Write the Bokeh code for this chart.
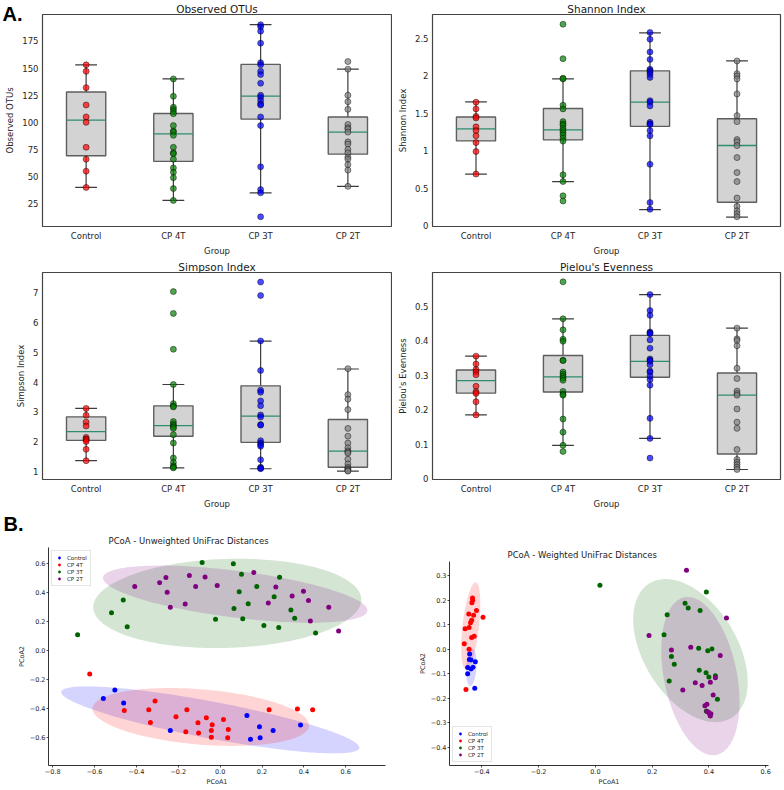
import numpy as np
from bokeh.plotting import figure
from bokeh.layouts import column, row
from bokeh.models import (Range1d, FactorRange, FixedTicker, Title, ColumnDataSource,
                          CustomJSTickFormatter)
from bokeh.transform import dodge
from bokeh.embed import file_html
from bokeh.resources import INLINE

# ---------------- data ----------------
groups = ["Control", "CP 4T", "CP 3T", "CP 2T"]
box_point_colors = ["red", "green", "blue", "gray"]
pcoa_colors = ["blue", "red", "darkgreen", "purple"]

# Observed OTUs
otu_control = [153, 147, 132, 116, 105, 100, 77, 66, 55, 40]
otu_cp4t = [140, 124, 114, 112, 110, 108, 97, 92, 91, 88, 77, 72, 71, 66, 58, 54, 49, 39, 28]
otu_cp3t = [190, 188, 184, 173, 155, 153, 147, 144, 136, 125, 123, 120, 117, 116, 105, 97, 59, 38, 35, 13]
otu_cp2t = [156, 149, 125, 119, 112, 98, 95, 94, 91, 82, 80, 75, 72, 68, 66, 61, 56, 41]
otu_q1 = [69.2, 64.0, 103.0, 70.7]
otu_med = [102.1, 89.3, 124.1, 90.9]
otu_q3 = [128.0, 108.2, 153.4, 104.9]
otu_lo = [40, 28, 35, 41]
otu_hi = [153, 140, 190, 149]
otu_ticks = [25, 50, 75, 100, 125, 150, 175]

# Shannon
sh_control = [1.65, 1.56, 1.46, 1.44, 1.32, 1.27, 1.20, 1.11, 0.99, 0.69]
sh_cp4t = [2.69, 2.23, 1.97, 1.96, 1.61, 1.56, 1.39, 1.36, 1.34, 1.30, 1.27, 1.24, 1.21, 1.17, 1.13, 0.68, 0.59, 0.40, 0.33]
sh_cp3t = [2.58, 2.49, 2.32, 2.22, 2.09, 2.07, 2.05, 2.02, 1.98, 1.67, 1.65, 1.60, 1.38, 1.36, 1.35, 1.27, 1.20, 0.82, 0.31, 0.22]
sh_cp2t = [2.20, 2.03, 2.00, 1.96, 1.76, 1.47, 1.39, 1.15, 1.12, 1.07, 0.91, 0.71, 0.59, 0.37, 0.26, 0.20, 0.16, 0.12]
sh_q1 = [1.133, 1.146, 1.327, 0.313]
sh_med = [1.292, 1.279, 1.649, 1.071]
sh_q3 = [1.451, 1.565, 2.068, 1.429]
sh_lo = [0.688, 0.59, 0.216, 0.115]
sh_hi = [1.653, 1.96, 2.575, 2.20]
sh_ticks = [0.0, 0.5, 1.0, 1.5, 2.0, 2.5]

# Simpson
si_control = [3.12, 2.89, 2.66, 2.53, 2.15, 2.10, 2.07, 2.01, 1.75, 1.37]
si_cp4t = [7.03, 6.30, 5.10, 3.92, 3.28, 3.20, 3.17, 2.68, 2.60, 2.55, 2.50, 2.45, 2.24, 1.96, 1.46, 1.31, 1.20, 1.15, 1.13]
si_cp3t = [7.35, 6.90, 5.38, 4.39, 3.73, 3.66, 3.37, 3.21, 2.90, 2.83, 2.58, 2.56, 2.04, 1.96, 1.90, 1.85, 1.40, 1.15, 1.12, 1.10]
si_cp2t = [4.45, 3.58, 3.43, 3.08, 2.45, 2.19, 1.96, 1.80, 1.70, 1.66, 1.62, 1.42, 1.26, 1.15, 1.10, 1.08, 1.04, 1.02]
si_q1 = [2.049, 2.189, 1.984, 1.151]
si_med = [2.341, 2.546, 2.859, 1.692]
si_q3 = [2.838, 3.205, 3.876, 2.751]
si_lo = [1.37, 1.13, 1.10, 1.02]
si_hi = [3.12, 3.92, 5.37, 4.44]
si_ticks = [1, 2, 3, 4, 5, 6, 7]

# Pielou
pe_control = [0.355, 0.332, 0.316, 0.309, 0.301, 0.268, 0.252, 0.247, 0.223, 0.185]
pe_cp4t = [0.570, 0.463, 0.431, 0.404, 0.398, 0.343, 0.342, 0.309, 0.303, 0.297, 0.291, 0.285, 0.253, 0.245, 0.242, 0.173, 0.135, 0.097, 0.079]
pe_cp3t = [0.533, 0.487, 0.473, 0.425, 0.422, 0.420, 0.402, 0.378, 0.347, 0.343, 0.340, 0.330, 0.312, 0.308, 0.297, 0.287, 0.271, 0.175, 0.117, 0.060]
pe_cp2t = [0.436, 0.405, 0.400, 0.385, 0.320, 0.290, 0.254, 0.247, 0.242, 0.202, 0.164, 0.146, 0.085, 0.056, 0.048, 0.041, 0.034, 0.027]
pe_q1 = [0.248, 0.251, 0.294, 0.072]
pe_med = [0.284, 0.295, 0.340, 0.242]
pe_q3 = [0.315, 0.357, 0.415, 0.306]
pe_lo = [0.185, 0.097, 0.117, 0.027]
pe_hi = [0.355, 0.463, 0.533, 0.436]
pe_ticks = [0.0, 0.1, 0.2, 0.3, 0.4, 0.5]

# PCoA - unweighted
uw_control_x = [-0.558, -0.503, -0.461, -0.238, 0.128, 0.188, 0.145, 0.191, 0.253, 0.384]
uw_control_y = [-0.329, -0.270, -0.360, -0.550, -0.446, -0.524, -0.610, -0.601, -0.550, -0.513]
uw_cp4t_x = [-0.623, -0.458, -0.311, -0.341, -0.333, -0.211, -0.159, -0.164, -0.106, -0.103,
             -0.066, -0.038, -0.042, -0.042, 0.016, 0.039, 0.036, 0.234, 0.369, 0.442]
uw_cp4t_y = [-0.161, -0.413, -0.347, -0.407, -0.495, -0.455, -0.407, -0.559, -0.497, -0.568,
             -0.462, -0.510, -0.550, -0.597, -0.475, -0.544, -0.601, -0.407, -0.402, -0.407]
uw_cp3t_x = [-0.681, -0.519, -0.463, -0.444, -0.086, 0.063, 0.102, 0.091, 0.175, 0.284,
             0.258, 0.134, 0.066, 0.108, -0.022, 0.209, 0.280, 0.338, 0.356, 0.456]
uw_cp3t_y = [0.110, 0.263, 0.351, 0.166, 0.610, 0.601, 0.528, 0.407, 0.444, 0.508,
             0.373, 0.325, 0.292, 0.221, 0.217, 0.175, 0.161, 0.281, 0.225, 0.122]
uw_cp2t_x = [-0.408, -0.289, -0.259, -0.253, -0.238, -0.167, -0.147, -0.117, -0.072, -0.014,
             0.161, 0.266, 0.230, 0.344, 0.398, 0.422, 0.431, 0.519, 0.566]
uw_cp2t_y = [0.444, 0.469, 0.506, 0.404, 0.301, 0.323, 0.519, 0.444, 0.510, 0.451,
             0.541, 0.440, 0.329, 0.378, 0.411, 0.347, 0.206, 0.301, 0.137]
# ellipses: centre x, centre y, semi-major, semi-minor, angle (deg)
uw_ell_cx = [-0.047, -0.092, 0.034, 0.072]
uw_ell_cy = [-0.477, -0.457, 0.327, 0.391]
uw_ell_a = [0.738, 0.521, 0.641, 0.642]
uw_ell_b = [0.125, 0.19, 0.307, 0.16]
uw_ell_ang = [-15.5, -7.3, 3.0, -10.7]
uw_xticks = [-0.8, -0.6, -0.4, -0.2, 0.0, 0.2, 0.4, 0.6]
uw_yticks = [-0.6, -0.4, -0.2, 0.0, 0.2, 0.4, 0.6]

# PCoA - weighted
w_control_x = [-0.443, -0.444, -0.438, -0.423, -0.450, -0.438, -0.431, -0.450, -0.425]
w_control_y = [-0.020, -0.042, -0.044, -0.051, -0.075, -0.081, -0.074, -0.100, -0.159]
w_cp4t_x = [-0.433, -0.432, -0.435, -0.419, -0.429, -0.446, -0.436, -0.440, -0.396, -0.445,
            -0.459, -0.427, -0.436, -0.462, -0.445, -0.456]
w_cp4t_y = [0.208, 0.199, 0.189, 0.157, 0.138, 0.143, 0.118, 0.108, 0.130, 0.088,
            0.083, 0.053, 0.047, 0.022, 0.000, -0.164]
w_cp3t_x = [0.016, 0.391, 0.316, 0.327, 0.369, 0.253, 0.242, 0.268, 0.278, 0.364,
            0.396, 0.411, 0.260, 0.366, 0.390, 0.400, 0.423, 0.430, 0.391]
w_cp3t_y = [0.260, 0.233, 0.187, 0.168, 0.157, 0.140, 0.059, -0.030, -0.062, 0.004,
            -0.007, 0.001, -0.130, -0.086, -0.096, -0.113, -0.108, -0.204, -0.252]
w_cp2t_x = [0.321, 0.462, 0.189, 0.268, 0.336, 0.440, 0.352, 0.376, 0.308, 0.405,
            0.423, 0.415, 0.386, 0.393, 0.399, 0.403, 0.393, 0.405, 0.407]
w_cp2t_y = [0.321, 0.127, 0.056, -0.003, 0.008, -0.026, -0.137, -0.148, -0.166, -0.135,
            -0.117, -0.187, -0.231, -0.224, -0.257, -0.265, -0.254, -0.272, -0.263]
w_ell_cx = [-0.437, -0.439, 0.335, 0.370]
w_ell_cy = [-0.074, 0.095, -0.006, -0.110]
w_ell_a = [0.076, 0.178, 0.311, 0.326]
w_ell_b = [0.018, 0.029, 0.17, 0.129]
w_ell_ang = [87.0, 84.4, -65.4, -80.6]
w_xticks = [-0.4, -0.2, 0.0, 0.2, 0.4, 0.6]
w_yticks = [-0.4, -0.3, -0.2, -0.1, 0.0, 0.1, 0.2, 0.3]

FONT = "DejaVu Sans"
TXT = "#262626"


def box_panel(title, ylabel, values, q1, med, q3, lo, hi, yr, yticks, width, height,
              mbl, mbr, mbt, mbb):
    p = figure(width=width, height=height, x_range=FactorRange(*groups), y_range=Range1d(*yr),
               output_backend="svg", toolbar_location=None,
               min_border_left=mbl, min_border_right=mbr, min_border_top=mbt,
               min_border_bottom=mbb)
    p.title.text = title
    p.title.align = "center"
    p.title.text_font = FONT
    p.title.text_font_size = "10.5px"
    p.title.text_font_style = "normal"
    p.title.text_color = "#1a1a1a"
    p.title.standoff = 0
    p.outline_line_color = "#444444"
    p.outline_line_width = 1.2
    p.xgrid.visible = False
    p.ygrid.visible = False
    for ax in (p.xaxis, p.yaxis):
        ax.axis_line_color = None
        ax.major_tick_line_color = None
        ax.minor_tick_line_color = None
        ax.major_tick_out = 0
        ax.major_tick_in = 0
        ax.major_label_text_font = FONT
        ax.major_label_text_font_size = "8.5px"
        ax.major_label_text_color = TXT
        ax.axis_label_text_font = FONT
        ax.axis_label_text_font_size = "8.5px"
        ax.axis_label_text_font_style = "normal"
        ax.axis_label_text_color = TXT
        ax.major_label_standoff = 4
        ax.axis_label_standoff = 4
    p.xaxis.axis_label_standoff = 2
    p.xaxis.axis_label = "Group"
    p.yaxis.axis_label = ylabel
    p.yaxis.ticker = FixedTicker(ticks=yticks)

    src = ColumnDataSource(dict(grp=groups, q1=q1, med=med, q3=q3, lo=lo, hi=hi))
    wl = dict(line_color="#3c3c3c", line_width=1.2)
    p.segment(x0="grp", y0="q3", x1="grp", y1="hi", source=src, **wl)
    p.segment(x0="grp", y0="q1", x1="grp", y1="lo", source=src, **wl)
    p.segment(x0=dodge("grp", -0.125, range=p.x_range), y0="hi",
              x1=dodge("grp", 0.125, range=p.x_range), y1="hi", source=src, **wl)
    p.segment(x0=dodge("grp", -0.125, range=p.x_range), y0="lo",
              x1=dodge("grp", 0.125, range=p.x_range), y1="lo", source=src, **wl)
    p.vbar(x="grp", width=0.45, bottom="q1", top="q3", source=src,
           fill_color="#d3d3d3", line_color="#5e5e5e", line_width=1.4)
    p.segment(x0=dodge("grp", -0.225, range=p.x_range), y0="med",
              x1=dodge("grp", 0.225, range=p.x_range), y1="med", source=src,
              line_color="#2f8c6e", line_width=1.3)
    for g, vals, c in zip(groups, values, box_point_colors):
        p.scatter(x=[g] * len(vals), y=vals, size=6, fill_color=c, fill_alpha=0.7,
                  line_color="black", line_alpha=0.55, line_width=0.8)
    return p


def ellipse_xy(cx, cy, a, b, ang):
    t = np.linspace(0, 2 * np.pi, 240)
    th = np.deg2rad(ang)
    x = cx + a * np.cos(t) * np.cos(th) - b * np.sin(t) * np.sin(th)
    y = cy + a * np.cos(t) * np.sin(th) + b * np.sin(t) * np.cos(th)
    return list(x), list(y)


def pcoa_panel(title, xs_list, ys_list, ell, xr, yr, xticks, yticks, width, height,
               mbl, mbr, mbt, legend_loc, title_offset):
    p = figure(width=width, height=height, x_range=Range1d(*xr), y_range=Range1d(*yr),
               output_backend="svg", toolbar_location=None, frame_align=False,
               min_border_left=mbl, min_border_right=mbr, min_border_top=mbt,
               min_border_bottom=21)
    p.title = None
    p.add_layout(Title(text=title, align="left", offset=title_offset, text_font=FONT,
                       text_font_size="8.5px", text_font_style="normal",
                       text_color="#1a1a1a", standoff=3), "above")
    p.outline_line_color = None
    p.xgrid.visible = False
    p.ygrid.visible = False
    fmt = CustomJSTickFormatter(code="return tick.toFixed(1).replace('-', '\\u2212');")
    for ax in (p.xaxis, p.yaxis):
        ax.axis_line_color = "black"
        ax.axis_line_width = 0.8
        ax.major_tick_line_color = "black"
        ax.major_tick_line_width = 0.7
        ax.major_tick_out = 2
        ax.major_tick_in = 0
        ax.minor_tick_line_color = None
        ax.major_label_text_font = FONT
        ax.major_label_text_font_size = "6.5px"
        ax.major_label_text_color = TXT
        ax.axis_label_text_font = FONT
        ax.axis_label_text_font_size = "6.5px"
        ax.axis_label_text_font_style = "normal"
        ax.axis_label_text_color = TXT
        ax.major_label_standoff = 1
        ax.axis_label_standoff = 1
        ax.formatter = fmt
    p.xaxis.ticker = FixedTicker(ticks=xticks)
    p.yaxis.ticker = FixedTicker(ticks=yticks)
    p.xaxis.axis_label = "PCoA1"
    p.yaxis.axis_label = "PCoA2"

    cxs, cys, aa, bb, angs = ell
    pxs, pys = [], []
    for i in range(len(groups)):
        ex, ey = ellipse_xy(cxs[i], cys[i], aa[i], bb[i], angs[i])
        pxs.append(ex)
        pys.append(ey)
    p.patches(xs=pxs, ys=pys, fill_color=pcoa_colors, fill_alpha=0.17, line_color=None)
    for g, xv, yv, c in zip(groups, xs_list, ys_list, pcoa_colors):
        p.scatter(x=xv, y=yv, size=5, fill_color=c, line_color=None, legend_label=g)
    lg = p.legend[0]
    lg.location = legend_loc
    lg.margin = 3
    lg.padding = 3
    lg.spacing = 0
    lg.label_text_font = FONT
    lg.label_text_font_size = "5.5px"
    lg.label_text_color = TXT
    lg.label_height = 7
    lg.label_standoff = 4
    lg.glyph_height = 7
    lg.glyph_width = 8
    lg.border_line_color = "#cccccc"
    lg.border_line_width = 0.8
    lg.background_fill_alpha = 0.8
    return p


p1 = box_panel("Observed OTUs", "Observed OTUs", [otu_control, otu_cp4t, otu_cp3t, otu_cp2t],
               otu_q1, otu_med, otu_q3, otu_lo, otu_hi, (4, 199.4), otu_ticks,
               392, 258, 42, 1, 14, 28)
p2 = box_panel("Shannon Index", "Shannon Index", [sh_control, sh_cp4t, sh_cp3t, sh_cp2t],
               sh_q1, sh_med, sh_q3, sh_lo, sh_hi, (-0.01, 2.82), sh_ticks,
               390, 258, 40, 2, 14, 28)
p3 = box_panel("Simpson Index", "Simpson Index", [si_control, si_cp4t, si_cp3t, si_cp2t],
               si_q1, si_med, si_q3, si_lo, si_hi, (0.74, 7.67), si_ticks,
               392, 253, 42, 1, 14, 26)
p4 = box_panel("Pielou's Evenness", "Pielou's Evenness", [pe_control, pe_cp4t, pe_cp3t, pe_cp2t],
               pe_q1, pe_med, pe_q3, pe_lo, pe_hi, (-0.002, 0.597), pe_ticks,
               390, 253, 40, 2, 14, 26)

p5 = pcoa_panel("PCoA - Unweighted UniFrac Distances",
                [uw_control_x, uw_cp4t_x, uw_cp3t_x, uw_cp2t_x],
                [uw_control_y, uw_cp4t_y, uw_cp3t_y, uw_cp2t_y],
                (uw_ell_cx, uw_ell_cy, uw_ell_a, uw_ell_b, uw_ell_ang),
                (-0.82, 0.79), (-0.792, 0.713), uw_xticks, uw_yticks, 392, 277, 48, 7, 36,
                "top_left", 60)
p6 = pcoa_panel("PCoA - Weighted UniFrac Distances",
                [w_control_x, w_cp4t_x, w_cp3t_x, w_cp2t_x],
                [w_control_y, w_cp4t_y, w_cp3t_y, w_cp2t_y],
                (w_ell_cx, w_ell_cy, w_ell_a, w_ell_b, w_ell_ang),
                (-0.514, 0.61), (-0.474, 0.357), w_xticks, w_yticks, 390, 277, 57, 14, 50,
                "bottom_left", 58)

# panel letters
p1.add_layout(Title(text="A.", align="left", vertical_align="top", offset=-40, standoff=-24,
                    text_font="Liberation Sans", text_font_size="20px",
                    text_font_style="bold", text_color="black"), "above")
p5.title = Title(text="B.", align="left", vertical_align="top", offset=-45, standoff=-8,
                 text_font="Liberation Sans", text_font_size="20px",
                 text_font_style="bold", text_color="black")

layout = column(row(p1, p2), row(p3, p4), row(p5, p6))
open("out.html", "w").write(file_html(layout, INLINE))
